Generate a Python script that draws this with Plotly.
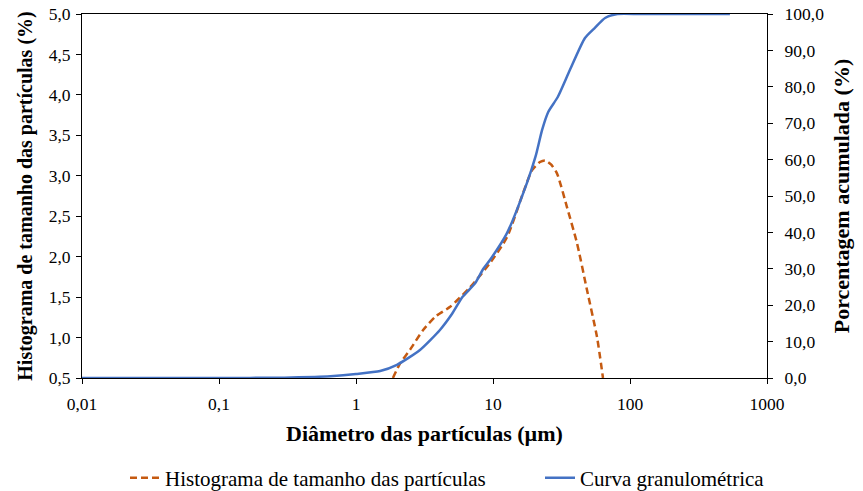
import plotly.graph_objects as go

# Histogram (left axis, %)
hist_x = [1.86, 2.1, 2.48, 3.08, 3.8, 4.86, 6.79, 9.5, 12.65, 16.6, 19.3, 22.0, 24.0, 26.5, 29.3, 34.7, 41.0, 48.5, 57.4, 63.5]
hist_y = [0.50, 0.68, 0.85, 1.09, 1.26, 1.38, 1.62, 1.92, 2.24, 2.79, 3.07, 3.17, 3.19, 3.14, 3.03, 2.61, 2.17, 1.59, 1.01, 0.50]

# Cumulative curve (right axis, %)
cum_x = [0.01, 0.1, 0.3, 0.5, 0.65, 1.0, 1.5, 1.99, 2.93, 4.1, 5.0, 6.0, 7.4, 8.5, 9.5, 12.65, 17.7, 20.5, 22.8, 25.3, 29.7, 36.4, 46.9, 55.4, 65.8, 81.0, 120.0, 536.0]
cum_y = [0.0, 0.0, 0.1, 0.3, 0.5, 1.1, 1.9, 3.6, 7.7, 13.2, 17.5, 22.3, 26.0, 30.0, 32.4, 39.8, 53.6, 61.0, 68.1, 73.1, 77.2, 84.6, 93.4, 96.2, 98.9, 100.0, 100.0, 100.0]

x_ticks = [0.01, 0.1, 1, 10, 100, 1000]
x_ticklabels = ["0,01", "0,1", "1", "10", "100", "1000"]

font_family = "Liberation Serif"
tick_font = dict(family=font_family, size=17.5, color="black")

fig = go.Figure()
fig.add_trace(go.Scatter(
    x=hist_x, y=hist_y, mode="lines", name="Histograma de tamanho das partículas",
    line=dict(color="#C55A11", width=2.5, dash="7px,4px", shape="spline", smoothing=0.6),
    yaxis="y", legend="legend"))
fig.add_trace(go.Scatter(
    x=cum_x, y=cum_y, mode="lines", name="Curva granulométrica",
    line=dict(color="#4472C4", width=2.5, shape="spline", smoothing=0.6),
    yaxis="y2", legend="legend2"))

axis_common = dict(showline=True, linecolor="black", linewidth=1, ticks="outside",
                   ticklen=5, tickcolor="black", showgrid=False, zeroline=False,
                   automargin=False, tickfont=tick_font)

legend_common = dict(orientation="h", xref="container", yref="container",
                     xanchor="left", yanchor="middle", y=0.0265,
                     bgcolor="rgba(0,0,0,0)",
                     font=dict(family=font_family, size=21, color="black"),
                     itemwidth=30)

fig.update_layout(
    width=863, height=491,
    margin=dict(l=82, r=96, t=14, b=113, autoexpand=False),
    paper_bgcolor="white", plot_bgcolor="white",
    separators=", ",
    font=dict(family=font_family, color="black"),
    xaxis=dict(type="log", range=[-2, 3], tickvals=x_ticks, ticktext=x_ticklabels,
               mirror=True, ticklabelstandoff=5,
               title=dict(text="<b>Diâmetro das partículas (µm)</b>",
                          font=dict(family=font_family, size=22), standoff=12),
               **axis_common),
    yaxis=dict(range=[0.5, 5.0], dtick=0.5, tick0=0.5, tickformat=".1f",
               ticklabelstandoff=2,
               title=dict(text="<b>Histograma de tamanho das partículas (%)</b>",
                          font=dict(family=font_family, size=20), standoff=10),
               **axis_common),
    yaxis2=dict(range=[0, 100], dtick=10, tickformat=".1f", overlaying="y", side="right",
                ticklabelstandoff=8,
                title=dict(text="<b>Porcentagem acumulada (%)</b>",
                           font=dict(family=font_family, size=22), standoff=10),
                **axis_common),
    legend=dict(x=125 / 863, **legend_common),
    legend2=dict(x=540 / 863, **legend_common),
    showlegend=True,
)

fig.write_html("out.html")
